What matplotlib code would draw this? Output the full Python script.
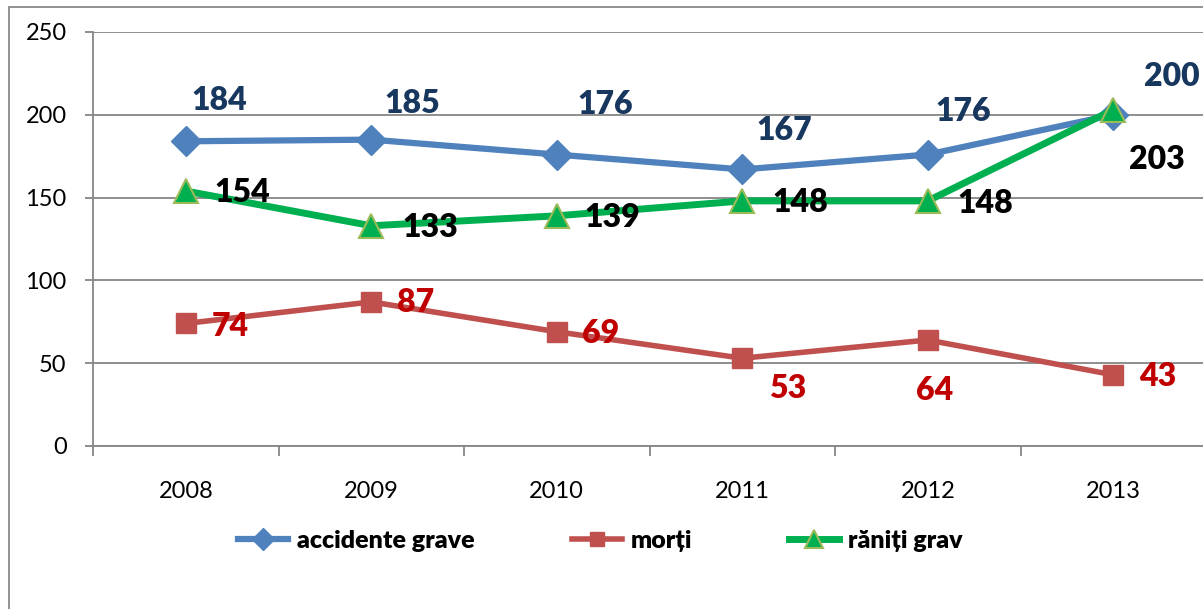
import numpy as np
import matplotlib
matplotlib.use('Agg')
import matplotlib.pyplot as plt
from matplotlib.patches import Rectangle

plt.rcParams['font.family'] = ['Lato', 'DejaVu Sans']

years = ['2008', '2009', '2010', '2011', '2012', '2013']
accidente = [184, 185, 176, 167, 176, 200]
morti = [74, 87, 69, 53, 64, 43]
raniti = [154, 133, 139, 148, 148, 203]

# label offsets in pixels (dx, dy), hand placed like in the original
off_acc = [(34, 41), (41, 36), (48, 50), (42, 39), (35, 43), (59, 38)]
off_mor = [(45, -3), (44, -1), (44, -2), (45, -30), (7, -50), (44, -2)]
off_ran = [(57, -2), (59, -2), (56, -2), (58, -2), (58, -3), (44, -50)]

fig = plt.figure(figsize=(12.03, 6.09), dpi=100)
ax = fig.add_axes([93 / 1203, 1 - 446 / 609, 1113 / 1203, 414 / 609])

x = np.arange(len(years))

ax.plot(x, accidente, color='#4F81BD', lw=4.5, marker='D', ms=15,
        mec='#4F81BD', label='accidente grave', zorder=3)
ax.plot(x, morti, color='#C0504D', lw=4, marker='s', ms=14,
        mec='#C0504D', label='morți', zorder=3)
ax.plot(x, raniti, color='#00B050', lw=5, marker='^', ms=17,
        mec='#9BBB59', mew=1.5, label='răniți grav', zorder=4)

# data labels
for vals, offs, col in [(accidente, off_acc, '#17375E'),
                        (morti, off_mor, '#C00000'),
                        (raniti, off_ran, 'black')]:
    for xi, v, (dx, dy) in zip(x, vals, offs):
        ax.annotate(str(v), (xi, v), xytext=(dx, dy), textcoords='offset pixels',
                    ha='center', va='center', fontsize=23, fontweight='heavy',
                    color=col, zorder=5)

ax.set_xlim(-0.5, 5.5)
ax.set_ylim(0, 250)
ax.set_yticks(np.arange(0, 251, 50))
ax.grid(axis='y', color='#868686', lw=1.3)
ax.set_axisbelow(True)

ax.set_xticks(np.arange(-0.5, 5.6, 1))
ax.set_xticklabels([])
ax.set_xticks(x, minor=True)
ax.set_xticklabels(years, minor=True)
ax.tick_params(axis='x', which='major', length=7, width=1.3, color='#868686')
ax.tick_params(axis='x', which='minor', length=0, pad=25, labelsize=17)
ax.tick_params(axis='y', length=6, width=1.3, color='#868686', pad=13, labelsize=17)

for s in ['top', 'right']:
    ax.spines[s].set_visible(False)
for s in ['left', 'bottom']:
    ax.spines[s].set_color('#868686')
    ax.spines[s].set_linewidth(1.3)

fig.legend(loc='center', bbox_to_anchor=(0.499, 0.112), ncol=3, frameon=False,
           prop={'weight': 'heavy', 'size': 18}, handlelength=2.0,
           handletextpad=0.35, columnspacing=3.9, markerscale=0.75)

# chart border (cut off at the right and bottom in the original)
fig.patches.append(Rectangle((9 / 1203, -0.05), 1.2, 1 - 7 / 609 + 0.05,
                             transform=fig.transFigure, fill=False,
                             edgecolor='#898989', lw=1.3))

plt.savefig('out.png', dpi=100)
